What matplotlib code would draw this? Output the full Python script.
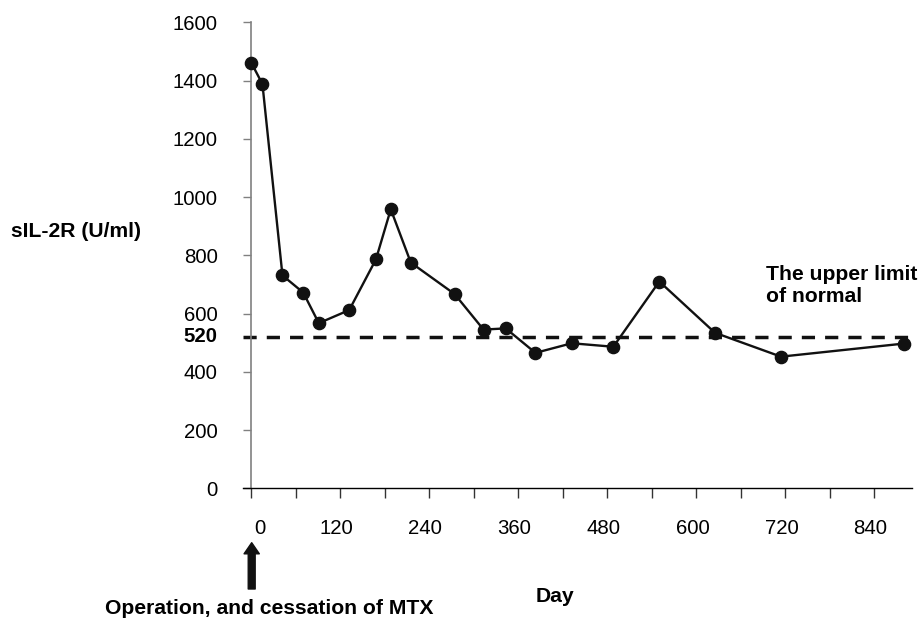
import matplotlib
matplotlib.use("Agg")
import matplotlib.pyplot as plt
import matplotlib.transforms as mtransforms

# sIL-2R values
days = [0, 15, 42, 70, 91, 132, 168, 188, 215, 274, 313, 343, 383, 432, 488, 550, 625, 714, 880]
sil2r = [1461, 1388, 731, 672, 567, 612, 786, 958, 775, 667, 545, 549, 465, 498, 486, 710, 534, 452, 497]
upper_limit = 520

x_ticks = list(range(0, 900, 60))
x_labels = [str(t) if t % 120 == 0 else "" for t in x_ticks]
y_ticks = list(range(0, 1601, 200))

plt.rcParams['font.family'] = ['Liberation Sans', 'DejaVu Sans']

fig = plt.figure(figsize=(9.24, 6.22), dpi=100)
ax = fig.add_axes([243 / 924, 1 - 488.3 / 622, (912.3 - 243) / 924, 466 / 622])

ax.plot(days, sil2r, color="#111111", lw=1.7, marker="o", markersize=8.8, zorder=3)
ax.axhline(upper_limit, color="#111111", lw=2.5, dashes=(3.8, 2.9), zorder=2)

ax.set_xlim(-11.2, 891)
ax.set_ylim(0, 1600)

for s in ["top", "right"]:
    ax.spines[s].set_visible(False)
ax.spines["left"].set_position(("data", 0))
ax.spines["left"].set_color("#808080")
ax.spines["left"].set_linewidth(1.2)
ax.spines["bottom"].set_color("black")
ax.spines["bottom"].set_linewidth(1.0)

ax.set_xticks(x_ticks)
ax.set_xticklabels(x_labels)
ax.set_yticks(y_ticks)
ax.tick_params(axis="x", direction="out", length=7, width=1, color="#333333", pad=15, labelsize=14.7)
ax.tick_params(axis="y", direction="out", length=5.8, width=1, color="#808080", pad=18.5, labelsize=14.7)

# small horizontal nudges of the x labels, as in the original
for lbl, t in zip(ax.get_xticklabels(), x_ticks):
    dx = 9 if t == 0 else -4
    lbl.set_transform(lbl.get_transform() + mtransforms.ScaledTranslation(dx / 100, 0, fig.dpi_scale_trans))

ax.annotate("520", xy=(0, upper_limit), xycoords="data", xytext=(-24.5, 0), textcoords="offset points",
            ha="right", va="center", fontsize=14.7, fontweight="bold", annotation_clip=False)

fig.text(11 / 924, 1 - 231.7 / 622, "sIL-2R (U/ml)", ha="left", va="center", fontsize=15.2, fontweight="bold")
fig.text(766 / 924, 1 - 285.4 / 622, "The upper limit\nof normal", ha="left", va="center",
         fontsize=15.2, fontweight="bold", linespacing=1.2)
fig.text(555 / 924, 1 - 596 / 622, "Day", ha="center", va="center", fontsize=15.2, fontweight="bold")
fig.text(269 / 924, 1 - 608 / 622, "Operation, and cessation of MTX", ha="center", va="center",
         fontsize=15.2, fontweight="bold")

ax.annotate("", xy=(251.7 / 924, 1 - 542.7 / 622), xycoords="figure fraction",
            xytext=(251.7 / 924, 1 - 589 / 622), textcoords="figure fraction",
            arrowprops=dict(width=5, headwidth=11, headlength=8, shrink=0, color="#111111"))

fig.savefig("out.png", dpi=100)
